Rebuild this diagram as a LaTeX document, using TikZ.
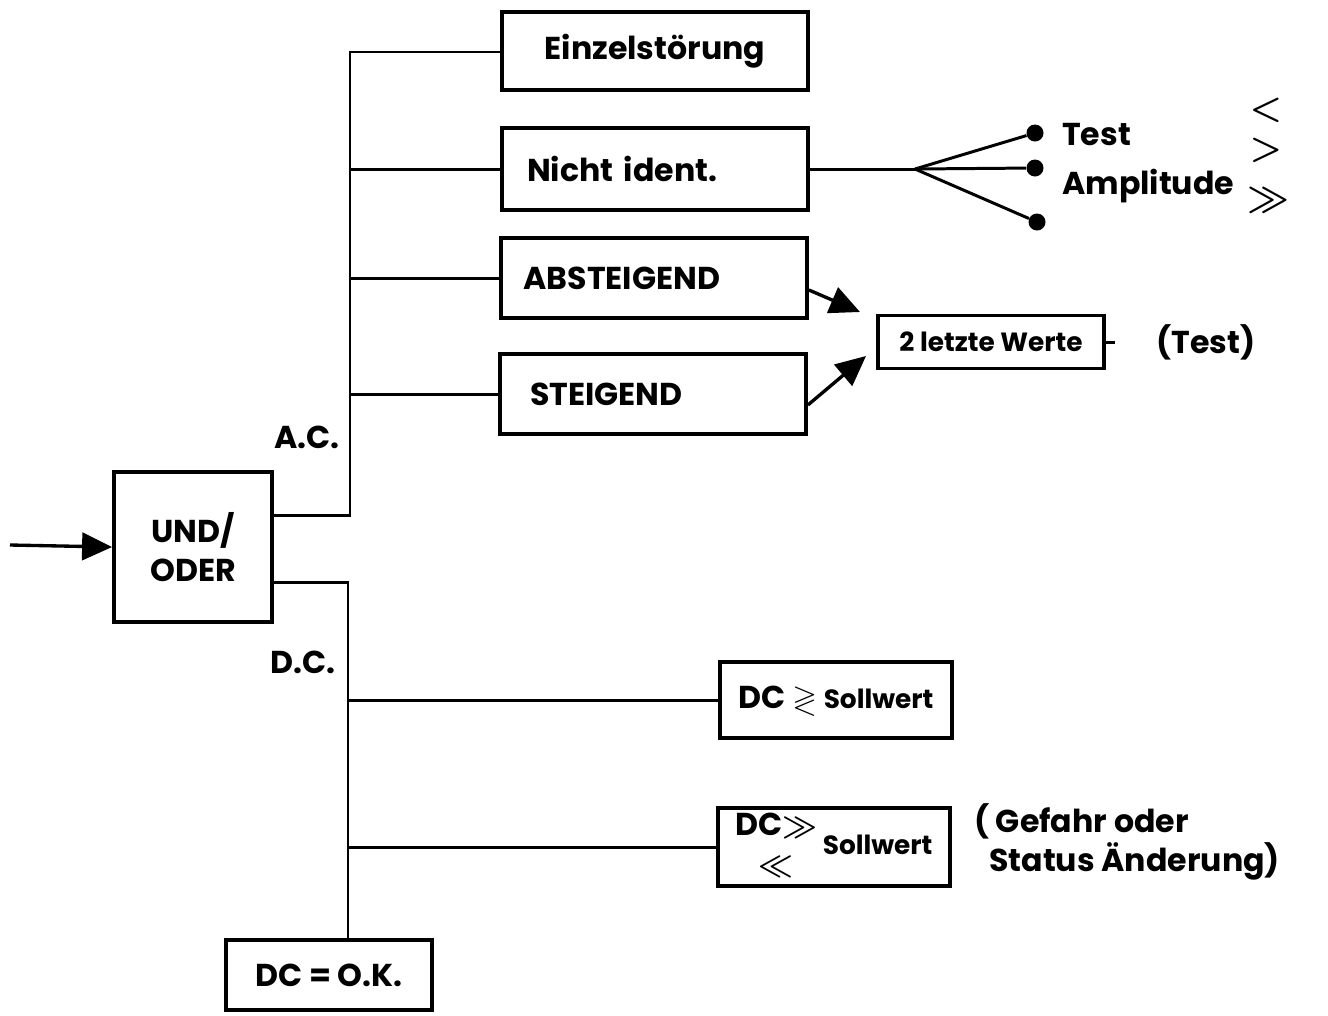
\documentclass[tikz,border=0pt]{standalone}
\usepackage{amsmath,amssymb}
\usepackage{fontspec}
\setmainfont{Poppins}
\usepackage{tikz}
\usetikzlibrary{arrows.meta}
\tikzset{every node/.append style={align=center}}
\tikzset{
  blk/.style={draw, line width=2.2pt, inner sep=0pt},
  wire/.style={line width=1.7pt},
  dot/.style={circle, fill, inner sep=0pt, minimum size=0.34cm},
  bigtip/.style={-{Triangle[length=0.6cm,width=0.55cm]}, line width=1.9pt},
  big/.style={font=\fontsize{18}{22}\selectfont\bfseries},
  mid/.style={font=\fontsize{15}{18}\selectfont\bfseries},
  sym/.style={font=\fontsize{20}{20}\selectfont, inner sep=0pt},
}

\begin{document}
\begin{tikzpicture}[x=0.02cm, y=-0.02cm]
  \useasboundingbox (0,0) rectangle (1328,1015);

  % === A.C. branch ===
  \node[blk, big, minimum width=6.12cm, minimum height=1.56cm] (einzel) at (655,51) {Einzelstörung};
  \node[blk, big, minimum height=1.64cm, text width=5.12cm, align=left, inner xsep=0.5cm] (nicht) at (655,169) {Nicht ident.};
  \node[blk, big, minimum height=1.6cm, text width=5.22cm, align=left, inner xsep=0.45cm] (abst) at (654,278) {ABSTEIGEND};
  \node[blk, big, minimum height=1.6cm, text width=4.92cm, align=left, inner xsep=0.6cm] (steig) at (653,394) {STEIGEND};

  % Input block
  \node[blk, big, minimum width=3.16cm, minimum height=3.0cm] (undoder) at (193,547) {UND/\\ODER};
  \coordinate (in) at (10,545);
  \draw[bigtip] (in) -- (undoder.west);

  % A.C. bus
  \coordinate (actop) at (350,52);
  \node[big] (aclab) at (307,437) {A.C.};
  \draw[wire] ([yshift=0.64cm]undoder.east) -| (actop) -- (actop -| einzel.west);
  \foreach \b in {nicht, abst, steig}
    \draw[wire] (actop |- \b.west) -- (\b.west);

  % Fan with three test points
  \coordinate (fan) at (915,169);
  \node[dot] (d1) at (1035,133) {};
  \node[dot] (d2) at (1035,168) {};
  \node[dot] (d3) at (1037,222) {};
  \draw[wire] (nicht.east) -- (fan);
  \foreach \d in {d1, d2, d3}
    \draw[wire] (fan) -- (\d);
  \node[big, anchor=west] (testlab) at (1056,135) {Test};
  \node[big, anchor=west] (amplab) at (1056,186) {Amplitude};
  \node[sym] (lt) at (1266,110) {$\boldsymbol{<}$};
  \node[sym] (gt) at (1266,150) {$\boldsymbol{>}$};
  \node[sym] (gg) at (1268,200) {$\boldsymbol{\gg}$};

  % Last two values
  \node[blk, mid, minimum width=4.52cm, minimum height=1.06cm] (letzte) at (991,342) {2 letzte Werte};
  \coordinate (abtip) at (860,312);
  \coordinate (sttip) at (866,356);
  \draw[bigtip] ([yshift=-0.24cm]abst.east) -- (abtip);
  \draw[bigtip] ([yshift=-0.22cm]steig.east) -- (sttip);
  \node[big] (testnote) at (1206,342) {(Test)};
  \draw[wire] (letzte.east) -- ([xshift=-0.7cm]testnote.west);

  % === D.C. branch ===
  \node[big] (dclab) at (303,662) {D.C.};
  \node[blk, big, minimum width=4.64cm, minimum height=1.52cm] (dcsoll) at (836,700)
    {DC $\boldsymbol{\gtrless}$ {\fontsize{15}{18}\selectfont Sollwert}};
  \node[blk, big, minimum width=4.64cm, minimum height=1.56cm] (dcgg) at (834,847)
    {\begin{tabular}{@{}l@{}}DC$\boldsymbol{\gg}$\\\hspace{0.45cm}$\boldsymbol{\ll}$\end{tabular}\,{\fontsize{15}{18}\selectfont Sollwert}};
  \node[blk, big, minimum width=4.12cm, minimum height=1.4cm] (dcok) at (329,975) {DC = O.K.};
  \node[big, anchor=west, align=left] (gefahr) at (968,842)
    {( Gefahr oder\\ \phantom{(}Status Änderung)};

  % D.C. bus
  \coordinate (dcbus) at (348,582);
  \draw[wire] ([yshift=-0.7cm]undoder.east) -| ([xshift=0.38cm]dcok.north);
  \foreach \b in {dcsoll, dcgg}
    \draw[wire] (dcbus |- \b.west) -- (\b.west);

\end{tikzpicture}
\end{document}
